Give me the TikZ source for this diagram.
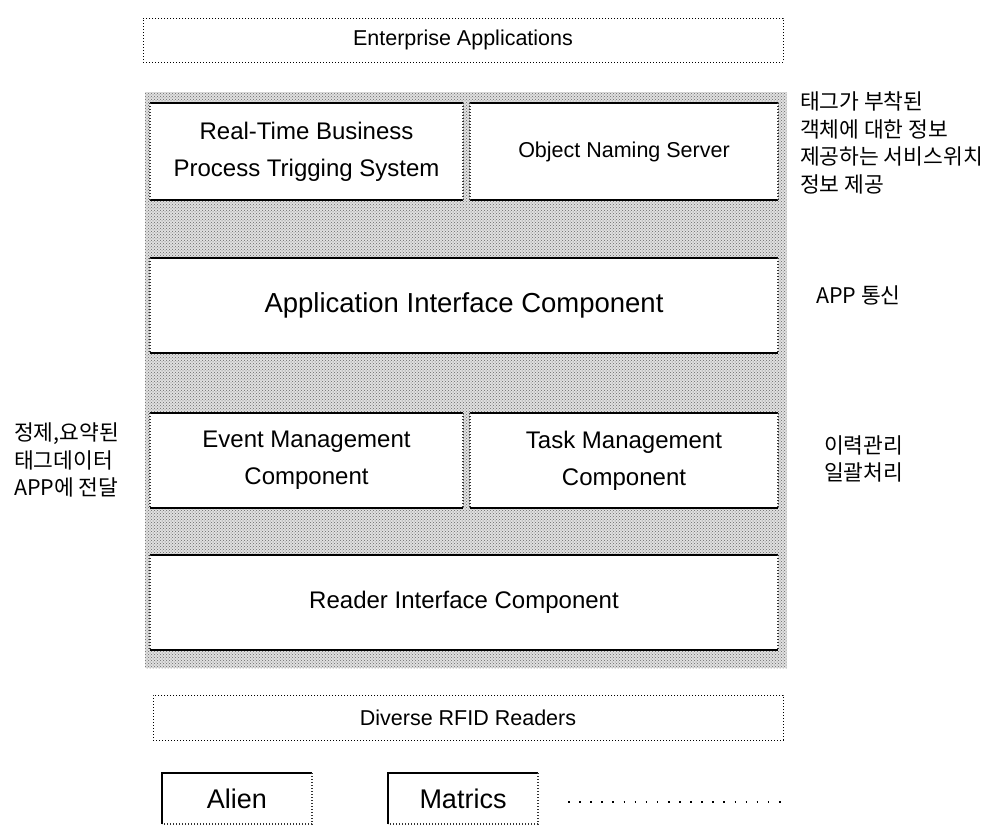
\documentclass[tikz,border=0pt]{standalone}
\usepackage{fontspec}
\setmainfont{Liberation Sans}
\newfontfamily\kr{Noto Sans CJK KR}
\usetikzlibrary{patterns}
\begin{document}
\begin{tikzpicture}[x=1pt,y=-1pt,
  every node/.style={inner sep=0pt,outer sep=0pt},
  outerbox/.style={rectangle, draw=black, line width=1pt, dash pattern=on 1pt off 2pt},
  graybox/.style={rectangle, preaction={fill=black!12}, pattern=crosshatch dots, pattern color=black!60},
  inbox/.style={rectangle, fill=white, align=center},
  solidedge/.style={draw=black, line width=1.4pt},
  dotedge/.style={draw=black!80, line width=1.2pt, dash pattern=on 1pt off 2pt},
  reader/.style={rectangle, align=center, font=\fontsize{27}{30}\selectfont},
  note/.style={align=left, anchor=west, font=\kr\fontsize{21.5}{27.5}\selectfont},
  big/.style={font=\fontsize{24}{37}\selectfont},
  small/.style={font=\fontsize{21.5}{26}\selectfont}
]
\useasboundingbox (0,0) rectangle (1000,827);

% top and bottom bars
\node[outerbox, small, minimum width=640pt, minimum height=44pt] (ent) at (463,40) {Enterprise Applications};

\node[graybox, minimum width=642pt, minimum height=576pt] (core) at (466,380) {};

\node[inbox, big, minimum width=313pt, minimum height=97pt] (rt) at (306.5,151.5) {Real-Time Business\\Process Trigging System};
\node[inbox, small, minimum width=308pt, minimum height=97pt] (ons) at (624,151.5) {Object Naming Server};
\node[inbox, font=\fontsize{27.5}{30}\selectfont, minimum width=628pt, minimum height=95pt] (aic) at (464,305.5) {Application Interface Component};
\node[inbox, big, minimum width=313pt, minimum height=95pt] (emc) at (306.5,460.5) {Event Management\\Component};
\node[inbox, big, minimum width=308pt, minimum height=95pt] (tmc) at (624,460.5) {Task Management\\Component};
\node[inbox, big, minimum width=628pt, minimum height=95pt] (ric) at (464,602.5) {Reader Interface Component};

\foreach \n in {rt,ons,aic,emc,tmc,ric}{
  \draw[solidedge] (\n.north west) -- (\n.north east);
  \draw[solidedge] (\n.south west) -- (\n.south east);
  \draw[dotedge] (\n.north west) -- (\n.south west);
  \draw[dotedge] (\n.north east) -- (\n.south east);
}

\node[outerbox, small, minimum width=630pt, minimum height=45pt] (drr) at (468,717.5) {Diverse RFID Readers};

\node[reader, minimum width=150pt, minimum height=51pt] (alien) at (237,798.5) {Alien};
\node[reader, minimum width=150pt, minimum height=51pt] (matrics) at (463,798.5) {Matrics};
\foreach \n in {alien,matrics}{
  \draw[solidedge, line width=1.2pt] (\n.south west) -- (\n.north west) -- (\n.north east);
  \draw[dotedge] (\n.north east) -- (\n.south east) -- (\n.south west);
}
\coordinate (dotA) at (568,802);
\coordinate (dotB) at (783,802);
\draw[line width=1.6pt, dash pattern=on 1.6pt off 9.5pt] (dotA) -- (dotB);

% annotations
\node[note] (n1) at (800,143) {태그가 부착된\\객체에 대한 정보\\제공하는 서비스위치\\정보 제공};
\node[note] (n2) at (816,295) {APP 통신};
\node[note] (n3) at (14,460) {정제,요약된\\태그데이터\\APP에 전달};
\node[note] (n4) at (824,459) {이력관리\\일괄처리};
\end{tikzpicture}
\end{document}
